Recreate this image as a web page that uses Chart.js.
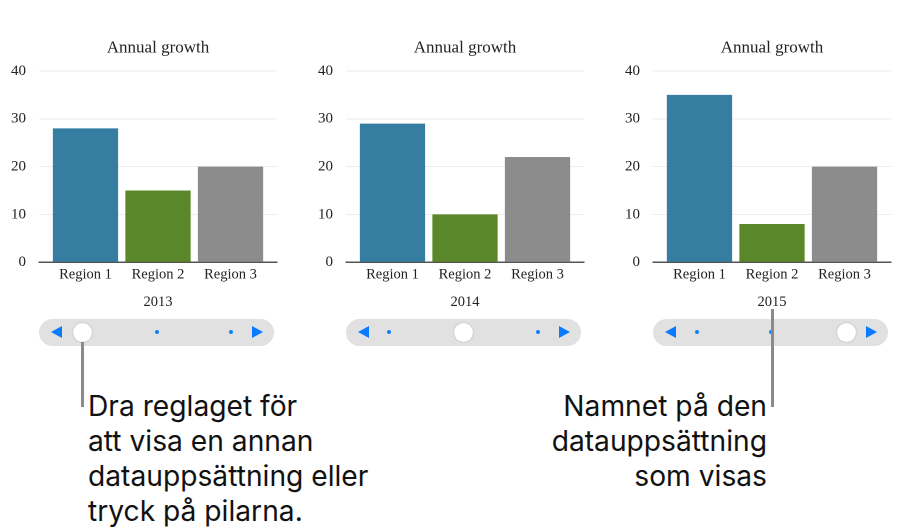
<!DOCTYPE html>
<html><head><meta charset="utf-8">
<style>
html,body{margin:0;padding:0;background:#fff;width:904px;height:532px;overflow:hidden}
.c{position:absolute;top:30px;width:295px;height:290px}
.track{position:absolute;top:319px;width:235px;height:27px;border-radius:14px;background:#e1e1e1}
.thumb{position:absolute;top:323px;width:19px;height:19px;border-radius:50%;background:#fff;box-shadow:0 0 2px rgba(0,0,0,.25)}
.dot{position:absolute;top:330px;width:4px;height:4px;border-radius:50%;background:#0a7aff}
.al{position:absolute;top:326px;width:0;height:0;border-top:6px solid transparent;border-bottom:6px solid transparent;border-right:11px solid #0a7aff}
.ar{position:absolute;top:326px;width:0;height:0;border-top:6px solid transparent;border-bottom:6px solid transparent;border-left:11px solid #0a7aff}
.lead{position:absolute;width:3px;background:#8a8a8a}
.note{position:absolute;font-family:Inter,sans-serif;font-size:28.2px;line-height:35px;color:#111;white-space:pre;letter-spacing:0}
</style>
<script src="https://cdn.jsdelivr.net/npm/chart.js@4"></script>
</head><body>
<div class="c" style="left:0"><canvas id="c0"></canvas></div>
<div class="c" style="left:307px"><canvas id="c1"></canvas></div>
<div class="c" style="left:614px"><canvas id="c2"></canvas></div>
<div id="ui"></div>
<div class="note" style="left:88px;top:389px">Dra reglaget för
att visa en annan
datauppsättning eller
tryck på pilarna.</div>
<div class="note" style="right:137px;top:389px;text-align:right">Namnet på den
datauppsättning
som visas</div>
<script>
const chartTitle = "Annual growth";
const categories = ["Region 1", "Region 2", "Region 3"];
const barColors = ["#367da2", "#5a8729", "#8c8c8c"];
const years = ["2013", "2014", "2015"];
const values2013 = [28, 15, 20];
const values2014 = [29, 10, 22];
const values2015 = [35, 8, 20];
const yTicks = [0, 10, 20, 30, 40];
const allValues = [values2013, values2014, values2015];
const serif = "'Liberation Serif', serif";

Chart.defaults.animation = false;
Chart.defaults.devicePixelRatio = 2;

allValues.forEach((vals, i) => {
  new Chart(document.getElementById("c" + i), {
    type: "bar",
    data: {
      datasets: [{
        data: vals.map((v, k) => ({ x: k, y: v })),
        backgroundColor: barColors,
        categoryPercentage: 0.9,
        barPercentage: 1
      }]
    },
    options: {
      responsive: true,
      maintainAspectRatio: false,
      layout: { padding: { left: 0, right: 18, top: 0, bottom: 0 } },
      plugins: {
        legend: { display: false },
        tooltip: { enabled: false },
        title: { display: true, fullSize: false, text: chartTitle, color: "#222",
                 font: { family: serif, size: 17, weight: "normal" },
                 padding: { top: 8, bottom: 12.6 } }
      },
      scales: {
        x: {
          type: "linear", offset: false, min: -0.641, max: 2.641,
          afterBuildTicks: s => { s.ticks = categories.map((_, k) => ({ value: k })); },
          grid: { display: false, drawTicks: false },
          border: { color: "#555", width: 1.5 },
          ticks: { callback: v => categories[v], color: "#222", maxRotation: 0, padding: 4,
                   autoSkip: false, font: { family: serif, size: 14.5 } },
          title: { display: true, text: years[i], color: "#222",
                   font: { family: serif, size: 14.5 }, padding: { top: 6, bottom: 9 } }
        },
        y: {
          min: 0, max: 40,
          afterBuildTicks: s => { s.ticks = yTicks.map(v => ({ value: v })); },
          afterFit: s => { s.width = 39; },
          grid: { color: "#ececec", drawTicks: false },
          border: { display: false },
          ticks: { color: "#222", padding: 13, font: { family: serif, size: 15 } }
        }
      }
    }
  });
});

/* slider controls */
const ui = document.getElementById("ui");
const add = (cls, left, extra) => {
  const d = document.createElement("div");
  d.className = cls; d.style.left = left + "px";
  if (extra) d.style.cssText += extra;
  ui.appendChild(d);
};
[[39, 82, [157, 231]], [346, 463, [389, 538]], [653, 846, [697, 771]]].forEach(([l, t, ds]) => {
  add("track", l);
  add("al", l + 12);
  add("ar", l + 213);
  ds.forEach(x => add("dot", x - 2));
  add("thumb", t - 9.5);
});
add("lead", 81, "top:342px;height:65px");
add("lead", 771, "top:309px;height:98px");
</script>
</body></html>
